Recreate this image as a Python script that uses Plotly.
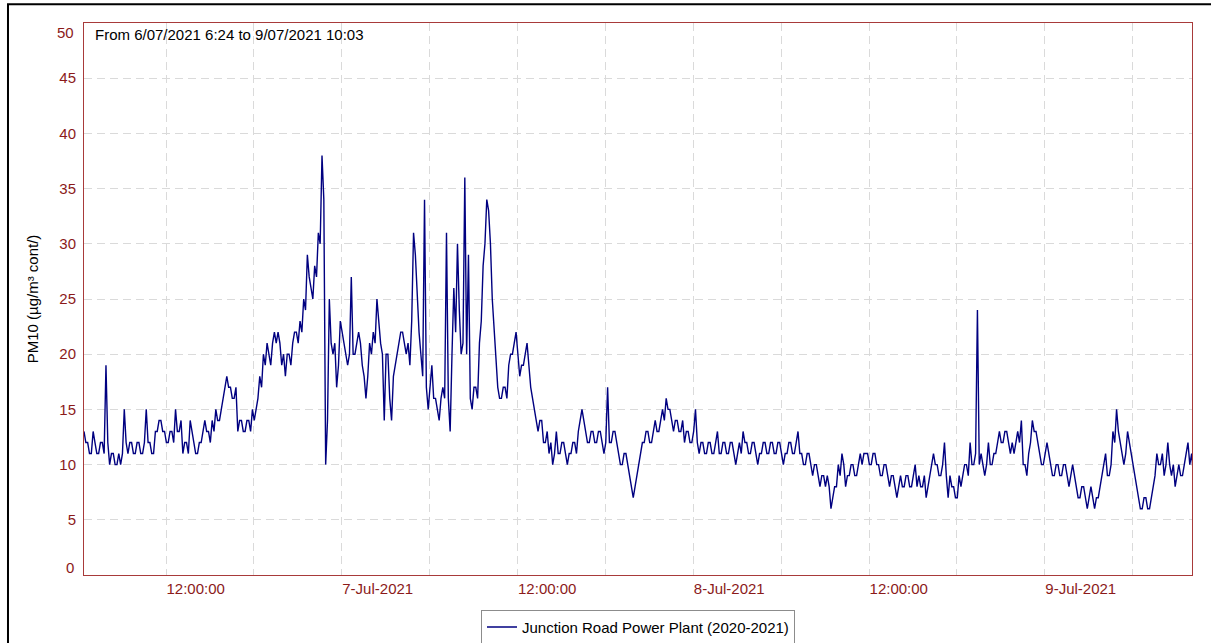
import pandas as pd
import plotly.graph_objects as go

# ---- data (PM10) ----
# pm10: reading at each 15-minute step; pm10_alt: the other edge of the
# fluctuating band, 7.5 minutes later.
start_time = "2021-07-06 06:24"
step = "15min"
half_step = "7.5min"
pm10 = [
    13, 12, 11, 12, 11, 12, 19, 10, 11, 10,
    10, 15, 11, 12, 11, 12, 11, 15, 12, 11,
    13, 14, 13, 12, 13, 15, 13, 11, 12, 14,
    12, 11, 12, 14, 13, 14, 15, 14, 16, 18,
    17, 16, 13, 14, 13, 14, 15, 15, 18, 20,
    21, 19, 22, 22, 19, 18, 20, 21, 22, 23,
    25, 29, 26, 28, 31, 38, 10, 25, 20, 17,
    23, 21, 19, 27, 20, 22, 19, 16, 21, 22,
    25, 21, 14, 20, 14, 19, 21, 22, 20, 19,
    31, 25, 20, 34, 15, 19, 16, 14, 17, 31,
    13, 26, 30, 20, 36, 29, 15, 17, 21, 28,
    34, 30, 22, 17, 16, 17, 19, 20, 22, 18,
    19, 21, 17, 15, 13, 14, 12, 11, 10, 13,
    11, 12, 10, 11, 12, 13, 15, 13, 12, 13,
    12, 13, 11, 17, 12, 13, 11, 10, 11, 9,
    7, 9, 11, 12, 13, 12, 14, 13, 15, 16,
    15, 13, 14, 13, 12, 13, 12, 15, 11, 12,
    11, 12, 11, 13, 11, 12, 11, 12, 10, 12,
    13, 12, 11, 12, 10, 11, 12, 11, 12, 11,
    12, 10, 11, 12, 11, 13, 11, 10, 11, 9,
    10, 8, 9, 9, 6, 8, 10, 11, 8, 9,
    10, 9, 11, 11, 11, 10, 11, 10, 9, 10,
    8, 9, 7, 9, 8, 9, 8, 10, 9, 8,
    7, 9, 11, 10, 9, 12, 7, 8, 7, 9,
    9, 10, 12, 10, 24, 11, 9, 12, 10, 11,
    13, 12, 13, 11, 11, 13, 14, 10, 11, 14,
    13, 11, 10, 12, 10, 9, 10, 9, 10, 8,
    10, 8, 7, 8, 6, 8, 6, 7, 9, 11,
    9, 13, 15, 12, 10, 13, 11, 9, 7, 6,
    7, 6, 8, 11, 10, 9, 12, 9, 8, 10,
    9, 11, 10, 9,
]
pm10_alt = [
    12, 11, 13, 11, 12, 11, 12, 11, 10, 11,
    11, 12, 12, 11, 12, 11, 12, 12, 11, 13,
    14, 13, 12, 13, 12, 13, 14, 12, 11, 13,
    11, 12, 13, 13, 12, 13, 14, 15, 17, 17,
    16, 17, 14, 13, 14, 13, 14, 16, 17, 19,
    20, 21, 21, 21, 20, 20, 19, 22, 21, 22,
    24, 27, 25, 27, 30, 34, 14, 21, 21, 19,
    22, 20, 20, 20, 21, 21, 18, 18, 20, 21,
    23, 20, 20, 16, 18, 20, 22, 21, 21, 23,
    29, 22, 18, 17, 17, 16, 15, 16, 16, 16,
    20, 22, 24, 21, 20, 16, 17, 16, 23, 30,
    33, 25, 19, 16, 17, 16, 20, 21, 20, 19,
    20, 19, 16, 14, 14, 12, 13, 12, 11, 11,
    12, 11, 11, 12, 11, 14, 14, 12, 13, 12,
    13, 12, 12, 12, 13, 12, 10, 11, 10, 8,
    8, 10, 12, 13, 12, 13, 13, 14, 14, 15,
    14, 14, 13, 14, 13, 12, 13, 12, 12, 11,
    12, 11, 12, 11, 12, 11, 12, 11, 11, 11,
    12, 11, 12, 11, 11, 12, 11, 12, 11, 12,
    11, 11, 12, 11, 12, 11, 10, 11, 10, 10,
    9, 9, 8, 8, 7, 8, 9, 10, 9, 10,
    9, 10, 10, 11, 10, 11, 10, 9, 10, 9,
    9, 8, 8, 8, 9, 8, 9, 8, 8, 9,
    8, 10, 10, 9, 10, 9, 9, 8, 7, 8,
    10, 9, 10, 11, 10, 10, 10, 10, 11, 12,
    12, 13, 12, 12, 12, 12, 10, 9, 12, 13,
    12, 10, 11, 11, 9, 10, 9, 10, 9, 9,
    9, 7, 8, 7, 7, 7, 7, 8, 10, 9,
    10, 12, 13, 11, 11, 12, 10, 8, 6, 7,
    6, 7, 9, 10, 11, 10, 10, 10, 9, 9,
    10, 12, 11, 9,
]

times_a = pd.date_range(start_time, periods=len(pm10), freq=step)
times_b = times_a + pd.Timedelta(half_step)
series = pd.concat([
    pd.Series(pm10, index=times_a),
    pd.Series(pm10_alt, index=times_b),
]).sort_index()

x_range = ["2021-07-06 06:24", "2021-07-09 10:03"]
x_tickvals = pd.date_range("2021-07-06 12:00", "2021-07-09 06:00", freq="6h")
x_ticktext = ["12:00:00", "", "7-Jul-2021", "", "12:00:00", "", "8-Jul-2021", "",
              "12:00:00", "", "9-Jul-2021", ""]
y_tickvals = [5, 10, 15, 20, 25, 30, 35, 40, 45]
y_edge_labels = [0, 50]

series_name = "Junction Road Power Plant (2020-2021)"
title_text = "From 6/07/2021 6:24 to 9/07/2021 10:03"
y_title = "PM10 (µg/m³ cont/)"

FONT = "Liberation Sans, Arial, sans-serif"
TICK_RED = "#8B1A1A"
FRAME_RED = "#A83A3A"
GRID = "#DADADA"

fig = go.Figure()
fig.add_trace(go.Scatter(
    x=series.index, y=series.values, mode="lines", name=series_name,
    line=dict(color="#000080", width=1.4),
    showlegend=True,
))

fig.update_layout(
    width=1211, height=643,
    margin=dict(l=84, r=19, t=23, b=68, autoexpand=False),
    paper_bgcolor="white", plot_bgcolor="white",
    font=dict(family=FONT, size=15, color="black"),
    showlegend=True,
    legend=dict(
        orientation="h", x=0.5, xanchor="center", y=-0.063, yanchor="top",
        bordercolor="#8C8C8C", borderwidth=1, bgcolor="white",
        font=dict(family=FONT, size=15, color="black"),
    ),
    xaxis=dict(
        range=x_range, type="date",
        tickvals=x_tickvals, ticktext=x_ticktext,
        ticklabelposition="outside right",
        tickfont=dict(family=FONT, size=15, color=TICK_RED),
        showgrid=True, gridcolor=GRID, griddash="8px,5px", gridwidth=1,
        showline=True, linecolor=FRAME_RED, linewidth=1, mirror=True,
        ticks="", zeroline=False,
    ),
    yaxis=dict(
        range=[0, 50], tickvals=y_tickvals,
        tickfont=dict(family=FONT, size=15, color=TICK_RED),
        ticklabelstandoff=4,
        showgrid=True, gridcolor=GRID, griddash="8px,5px", gridwidth=1,
        showline=True, linecolor=FRAME_RED, linewidth=1, mirror=True,
        ticks="", zeroline=False,
        title=dict(text=y_title, font=dict(family=FONT, size=15, color="black"), standoff=17),
    ),
)

# edge labels 0 and 50 sit just inside the plot height
for v, shift in zip(y_edge_labels, [8, -9]):
    fig.add_annotation(
        x=0, xref="paper", y=v, yref="y", text=str(v), showarrow=False,
        xanchor="right", xshift=-8, yshift=shift,
        font=dict(family=FONT, size=15, color=TICK_RED),
    )

fig.add_annotation(
    x=0.008, xref="paper", y=1, yref="paper", text=title_text, showarrow=False,
    xanchor="left", yanchor="top", yshift=-1,
    font=dict(family=FONT, size=15, color="black"),
)

# outer black frame around the whole picture
fig.add_shape(
    type="rect", xref="paper", yref="paper",
    x0=-0.0686, x1=1.03, y0=-0.2, y1=1.0339,
    line=dict(color="black", width=2), fillcolor="rgba(0,0,0,0)", layer="above",
)

fig.write_html(
    "out.html",
    config={"displayModeBar": False},
    post_script="document.body.style.margin='0';document.body.style.overflow='hidden';",
)
